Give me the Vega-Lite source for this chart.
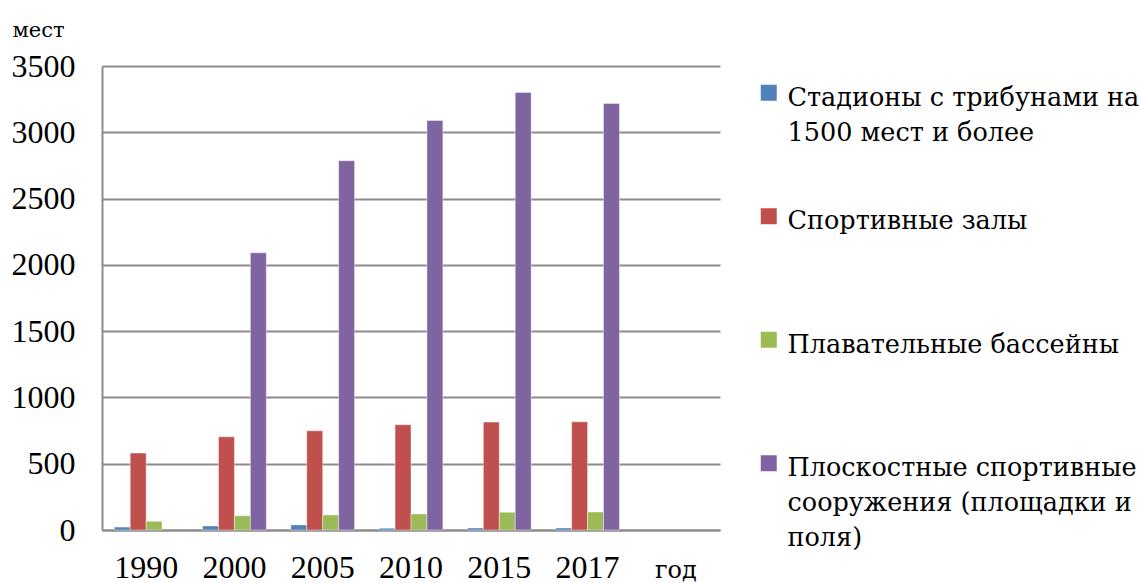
{
  "$schema": "https://vega.github.io/schema/vega-lite/v6.json",
  "width": 618,
  "height": 464,
  "autosize": {"type": "none"},
  "padding": {"left": 102, "top": 66, "right": 420, "bottom": 53},
  "background": "white",
  "data": {
    "values": [
      {"year": "1990", "type": "Стадионы с трибунами на 1500 мест и более", "value": 22},
      {"year": "1990", "type": "Спортивные залы", "value": 580},
      {"year": "1990", "type": "Плавательные бассейны", "value": 66},
      {"year": "2000", "type": "Стадионы с трибунами на 1500 мест и более", "value": 30},
      {"year": "2000", "type": "Спортивные залы", "value": 703},
      {"year": "2000", "type": "Плавательные бассейны", "value": 108},
      {"year": "2000", "type": "Плоскостные спортивные сооружения (площадки и поля)", "value": 2091},
      {"year": "2005", "type": "Стадионы с трибунами на 1500 мест и более", "value": 38},
      {"year": "2005", "type": "Спортивные залы", "value": 748},
      {"year": "2005", "type": "Плавательные бассейны", "value": 113},
      {"year": "2005", "type": "Плоскостные спортивные сооружения (площадки и поля)", "value": 2785},
      {"year": "2010", "type": "Стадионы с трибунами на 1500 мест и более", "value": 13},
      {"year": "2010", "type": "Спортивные залы", "value": 794},
      {"year": "2010", "type": "Плавательные бассейны", "value": 121},
      {"year": "2010", "type": "Плоскостные спортивные сооружения (площадки и поля)", "value": 3089},
      {"year": "2015", "type": "Стадионы с трибунами на 1500 мест и более", "value": 15},
      {"year": "2015", "type": "Спортивные залы", "value": 814},
      {"year": "2015", "type": "Плавательные бассейны", "value": 134},
      {"year": "2015", "type": "Плоскостные спортивные сооружения (площадки и поля)", "value": 3300},
      {"year": "2017", "type": "Стадионы с трибунами на 1500 мест и более", "value": 15},
      {"year": "2017", "type": "Спортивные залы", "value": 816},
      {"year": "2017", "type": "Плавательные бассейны", "value": 136},
      {"year": "2017", "type": "Плоскостные спортивные сооружения (площадки и поля)", "value": 3217}
    ]
  },
  "mark": {"type": "bar", "stroke": "#ffffff", "strokeOpacity": 0.4, "strokeWidth": 1},
  "encoding": {
    "x": {
      "field": "year",
      "type": "nominal",
      "scale": {"domain": ["1990", "2000", "2005", "2010", "2015", "2017", "год"], "paddingInner": 0, "paddingOuter": 0},
      "axis": {
        "title": null,
        "labelAngle": 0,
        "ticks": false,
        "labelBaseline": "alphabetic",
        "labelPadding": 47,
        "labelFont": {"condition": {"test": "datum.value == 'год'", "value": "DejaVu Serif"}, "value": "Liberation Serif"},
        "labelFontSize": {"condition": {"test": "datum.value == 'год'", "value": 24}, "value": 32},
        "labelColor": "#000000",
        "domainColor": "#8c8c8c",
        "domainWidth": 2
      }
    },
    "xOffset": {
      "field": "type",
      "type": "nominal",
      "scale": {"domain": ["Стадионы с трибунами на 1500 мест и более", "Спортивные залы", "Плавательные бассейны", "Плоскостные спортивные сооружения (площадки и поля)"], "paddingInner": 0, "paddingOuter": 0.77}
    },
    "y": {
      "field": "value",
      "type": "quantitative",
      "scale": {"domain": [0, 3500], "nice": false},
      "axis": {
        "values": [0, 500, 1000, 1500, 2000, 2500, 3000, 3500],
        "format": "d",
        "title": "мест",
        "titleAngle": 0,
        "titleAlign": "left",
        "titleBaseline": "alphabetic",
        "titleX": -90,
        "titleY": -30,
        "titleFont": "DejaVu Serif",
        "titleFontSize": 21,
        "titleFontWeight": "normal",
        "titleColor": "#000000",
        "labelFont": "Liberation Serif",
        "labelFontSize": 32,
        "labelColor": "#000000",
        "labelPadding": 27,
        "ticks": false,
        "domainColor": "#8c8c8c",
        "domainWidth": 2,
        "gridColor": "#8c8c8c",
        "gridWidth": 2
      }
    },
    "color": {
      "field": "type",
      "type": "nominal",
      "scale": {
        "domain": ["Стадионы с трибунами на 1500 мест и более", "Спортивные залы", "Плавательные бассейны", "Плоскостные спортивные сооружения (площадки и поля)"],
        "range": ["#4F81BD", "#C0504D", "#9BBB59", "#8064A2"]
      },
      "legend": {
        "title": null,
        "orient": "none",
        "legendX": 654,
        "legendY": 27,
        "padding": 0,
        "symbolType": "M-1,-2.625H1V-0.625H-1Z",
        "symbolSize": 256,
        "symbolStrokeWidth": 0,
        "labelOffset": 6,
        "labelLimit": 420,
        "labelFont": "DejaVu Serif",
        "labelFontSize": 25.5,
        "labelColor": "#000000",
        "labelBaseline": "alphabetic",
        "rowPadding": 25.5,
        "labelExpr": "datum.label == 'Стадионы с трибунами на 1500 мест и более' ? ['Стадионы с трибунами на', '1500 мест и более', ''] : datum.label == 'Плоскостные спортивные сооружения (площадки и поля)' ? ['Плоскостные спортивные', 'сооружения (площадки и', 'поля)'] : [datum.label, '', '']"
      }
    }
  },
  "config": {"view": {"stroke": null}, "style": {"guide-label": {"lineHeight": 35}}}
}
